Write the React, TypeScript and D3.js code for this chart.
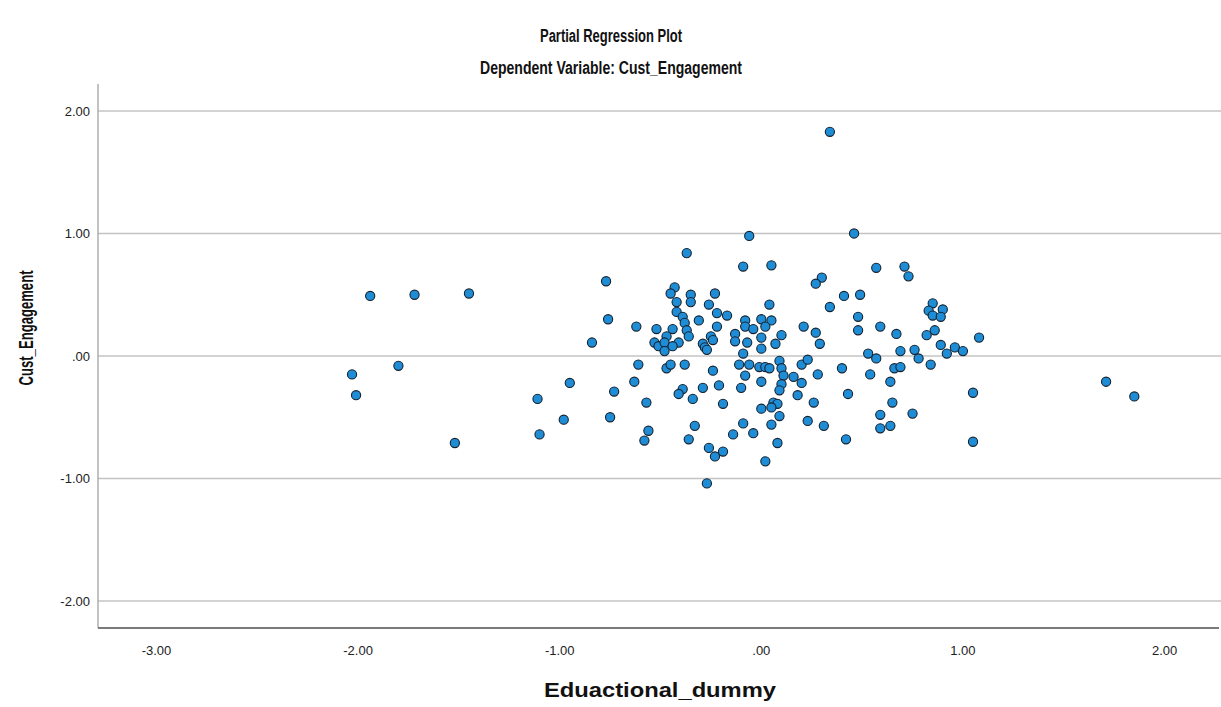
import React from "react";
import * as d3 from "d3";

const xTicks = [-3, -2, -1, 0, 1, 2];
const yTicks = [-2, -1, 0, 1, 2];
const titleText = "Partial Regression Plot";
const subtitleText = "Dependent Variable: Cust_Engagement";
const xLabel = "Eduactional_dummy";
const yLabel = "Cust_Engagement";

// Eduactional_dummy residuals
const xValues = [
  -1.94, -1.72, -1.45, -2.03, -2.01, -1.80, -1.52, -1.11, -1.10, -0.98, -0.95, -0.84, -0.77, -0.76, -0.75, -0.73,
  -0.06, -0.37, -0.09, 0.05, -0.43, -0.45, -0.35, -0.23, -0.42, -0.35, -0.26, 0.04, -0.42, -0.22, -0.17, -0.39,
  -0.38, -0.31, -0.08, 0.00, 0.05, 0.02, -0.62, -0.52, -0.44, -0.22, -0.08, -0.04, -0.37, -0.36, -0.13, 0.10,
  -0.47, -0.25, -0.24, 0.00, -0.53, -0.51, -0.48, -0.41, -0.44, -0.48, -0.29, -0.28, -0.27, -0.13, -0.07, 0.00,
  0.07, -0.09,
  -0.61, -0.47, -0.45, -0.38, -0.24, -0.11, -0.06, -0.01, 0.02, 0.04, 0.09, 0.10, -0.08, 0.11, 0.16,
  -0.63, -0.39, -0.41, -0.29, -0.21, -0.10, 0.00, 0.10, 0.09, 0.18, -0.57, -0.34, -0.19, 0.00, 0.06, 0.08,
  0.05, 0.09, -0.09, 0.05, -0.33, -0.56, -0.58, -0.36, -0.14, -0.04, 0.08, -0.26, -0.23, -0.19, 0.02, -0.27,
  0.46, 0.34, 0.57, 0.71, 0.73, 0.30, 0.27, 0.41, 0.49, 0.34, 0.48, 0.85, 0.83, 0.90, 0.85, 0.89,
  0.21, 0.59, 0.48, 0.27, 0.67, 0.82, 0.86, 1.08, 0.29, 0.89, 0.96, 0.92, 1.00, 0.53, 0.57, 0.69,
  0.76, 0.78, 0.84, 0.20, 0.23, 0.40, 0.66, 0.69,
  0.20, 0.28, 0.54, 0.64, 0.26, 0.43, 0.65, 1.05, 0.59, 0.75, 0.23, 0.31, 0.59, 0.64, 0.42, 1.05,
  1.71, 1.85,
];

// Cust_Engagement residuals
const yValues = [
  0.49, 0.50, 0.51, -0.15, -0.32, -0.08, -0.71, -0.35, -0.64, -0.52, -0.22, 0.11, 0.61, 0.30, -0.50, -0.29,
  0.98, 0.84, 0.73, 0.74, 0.56, 0.51, 0.50, 0.51, 0.44, 0.44, 0.42, 0.42, 0.36, 0.35, 0.33, 0.32,
  0.27, 0.29, 0.29, 0.30, 0.29, 0.24, 0.24, 0.22, 0.22, 0.24, 0.24, 0.22, 0.21, 0.16, 0.18, 0.17,
  0.16, 0.16, 0.13, 0.15, 0.11, 0.08, 0.11, 0.11, 0.08, 0.04, 0.10, 0.07, 0.05, 0.12, 0.11, 0.06,
  0.10, 0.02,
  -0.07, -0.10, -0.07, -0.07, -0.12, -0.07, -0.07, -0.09, -0.09, -0.10, -0.04, -0.10, -0.16, -0.16, -0.17,
  -0.21, -0.27, -0.31, -0.26, -0.24, -0.26, -0.21, -0.23, -0.28, -0.32, -0.38, -0.35, -0.39, -0.43, -0.38, -0.39,
  -0.42, -0.49, -0.55, -0.56, -0.57, -0.61, -0.69, -0.68, -0.64, -0.63, -0.71, -0.75, -0.82, -0.78, -0.86, -1.04,
  1.00, 1.83, 0.72, 0.73, 0.65, 0.64, 0.59, 0.49, 0.50, 0.40, 0.32, 0.43, 0.37, 0.38, 0.33, 0.32,
  0.24, 0.24, 0.21, 0.19, 0.18, 0.17, 0.21, 0.15, 0.10, 0.09, 0.07, 0.02, 0.04, 0.02, -0.02, 0.04,
  0.05, -0.02, -0.07, -0.07, -0.03, -0.10, -0.10, -0.09,
  -0.22, -0.15, -0.15, -0.21, -0.38, -0.31, -0.38, -0.30, -0.48, -0.47, -0.53, -0.57, -0.59, -0.57, -0.68, -0.70,
  -0.21, -0.33,
];

const W = 1221;
const H = 707;
const plot = { left: 98, right: 1219, top: 84, bottom: 628 };

const fmt = (v: number) =>
  d3.format(".2f")(v).replace("\u2212", "-").replace(/^(-?)0\./, "$1.");

export default function App() {
  const x = d3.scaleLinear().domain([-3.29, 2.27]).range([plot.left, plot.right]);
  const y = d3.scaleLinear().domain([-2.22, 2.22]).range([plot.bottom, plot.top]);
  const pts = xValues.map((v, i) => ({ x: v, y: yValues[i] }));
  const font = "Arial, 'Liberation Sans', sans-serif";

  return (
    <svg
      width={W}
      height={H}
      style={{ position: "absolute", left: 0, top: 0, background: "#fff" }}
      fontFamily={font}
    >
      <rect x={0} y={0} width={W} height={H} fill="#fff" />
      <text x={611} y={42} textAnchor="middle" fontSize={18} fontWeight="bold" fill="#111"
        textLength={142} lengthAdjust="spacingAndGlyphs">{titleText}</text>
      <text x={611} y={74} textAnchor="middle" fontSize={18} fontWeight="bold" fill="#111"
        textLength={262} lengthAdjust="spacingAndGlyphs">{subtitleText}</text>

      {yTicks.map((t) => (
        <g key={"gy" + t}>
          <line x1={plot.left} x2={W} y1={y(t)} y2={y(t)} stroke="#c4c4c4" strokeWidth={1.6} />
          <text x={90} y={y(t)} dy="0.35em" textAnchor="end" fontSize={13} fill="#222">{fmt(t)}</text>
        </g>
      ))}
      {xTicks.map((t) => (
        <text key={"tx" + t} x={x(t)} y={655} textAnchor="middle" fontSize={13} fill="#222">{fmt(t)}</text>
      ))}

      <line x1={plot.left} x2={plot.left} y1={plot.top} y2={plot.bottom} stroke="#9a9a9a" strokeWidth={1.2} />
      <line x1={plot.left} x2={plot.right} y1={plot.bottom} y2={plot.bottom} stroke="#7a7a7a" strokeWidth={2} />

      {pts.map((p, i) => (
        <circle key={i} cx={x(p.x)} cy={y(p.y)} r={4.6} fill="#1f8cd6" stroke="#14222f" strokeWidth={1.1} />
      ))}

      <text x={660} y={697} textAnchor="middle" fontSize={20} fontWeight="bold" fill="#111"
        textLength={232} lengthAdjust="spacingAndGlyphs">{xLabel}</text>
      <text transform={`translate(33, 328) rotate(-90)`} textAnchor="middle" fontSize={20} fontWeight="bold" fill="#111"
        textLength={115} lengthAdjust="spacingAndGlyphs">{yLabel}</text>
    </svg>
  );
}
